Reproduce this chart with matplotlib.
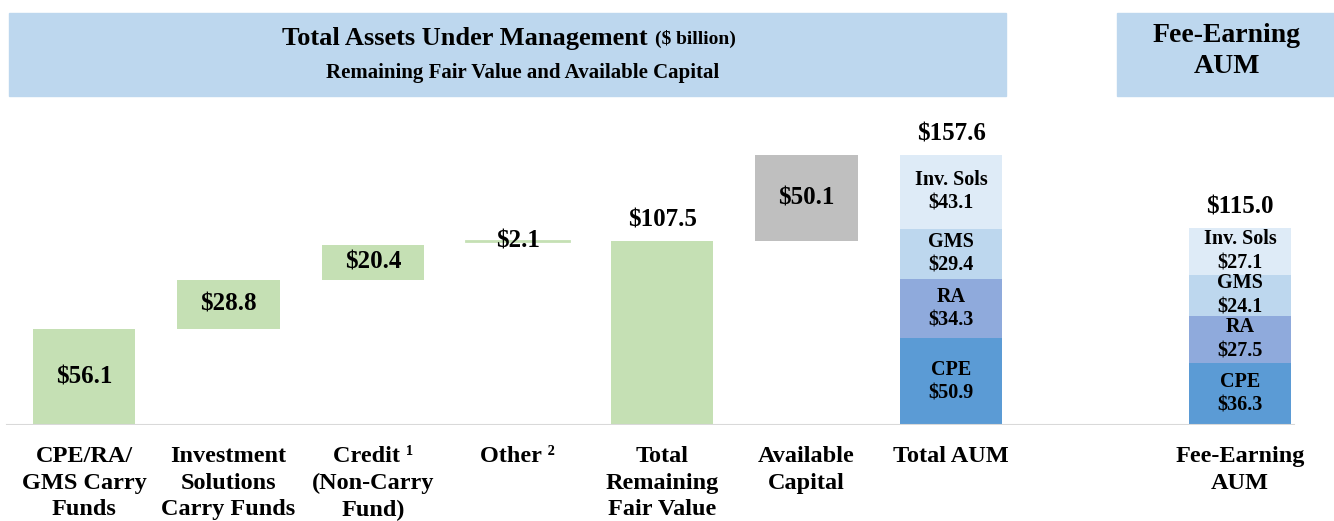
import matplotlib.pyplot as plt
from matplotlib.patches import Rectangle

# data ($ billion)
step_labels = ["$56.1", "$28.8", "$20.4", "$2.1"]
step_values = [56.1, 28.8, 20.4, 2.1]
total_fair_value = 107.5
available_capital = 50.1

segments = ["CPE", "RA", "GMS", "Inv. Sols"]
total_aum = [50.9, 34.3, 29.4, 43.1]
fee_earning_aum = [36.3, 27.5, 24.1, 27.1]
total_aum_sum = 157.6
fee_earning_sum = 115.0

categories = ["CPE/RA/\nGMS Carry\nFunds", "Investment\nSolutions\nCarry Funds",
              "Credit \u00b9\n(Non-Carry\nFund)", "Other \u00b2", "Total\nRemaining\nFair Value",
              "Available\nCapital", "Total AUM", "", "Fee-Earning\nAUM"]

green = "#C5E0B4"
grey = "#BFBFBF"
seg_colors = ["#5B9BD5", "#8FAADC", "#BDD7EE", "#DEEBF7"]
header_color = "#BDD7EE"
serif = ["Liberation Serif", "DejaVu Serif"]

plt.rcParams["font.family"] = serif
plt.rcParams["font.weight"] = "bold"

fig = plt.figure(figsize=(13.34, 5.21), dpi=100)
ax = fig.add_axes([0, 0.1843, 1, 0.6046])
w = 0.71
big = 18

# waterfall steps
bottom = 0
for i, (v, lab) in enumerate(zip(step_values, step_labels)):
    if v < 5:
        ax.plot([i - w / 2, i + w / 2], [bottom + v, bottom + v], color=green, lw=2)
        ax.text(i, bottom + v, lab, ha="center", va="center", fontsize=big)
    else:
        ax.bar(i, v, bottom=bottom, width=w, color=green)
        ax.text(i, bottom + v / 2, lab, ha="center", va="center", fontsize=big)
    bottom += v

ax.bar(4, total_fair_value, width=w, color=green)
ax.annotate(f"${total_fair_value}", (4, total_fair_value), xytext=(0, 7),
            textcoords="offset points", ha="center", va="bottom", fontsize=big)

ax.bar(5, available_capital, bottom=total_fair_value, width=w, color=grey)
ax.text(5, total_fair_value + available_capital / 2, f"${available_capital}",
        ha="center", va="center", fontsize=big)

# stacked bars
for x, vals, tot in [(6, total_aum, total_aum_sum), (8, fee_earning_aum, fee_earning_sum)]:
    b = 0
    for name, v, c in zip(segments, vals, seg_colors):
        ax.bar(x, v, bottom=b, width=w, color=c)
        ax.text(x, b + v / 2, f"{name}\n${v}", ha="center", va="center",
                fontsize=14.5, linespacing=1.25)
        b += v
    ax.annotate(f"${tot:.1f}", (x, tot), xytext=(0, 7), textcoords="offset points",
                ha="center", va="bottom", fontsize=big)

ax.set_xlim(-0.581, 8.65)
ax.set_ylim(0, 184)
ax.axhline(0, xmin=0.005, xmax=0.97, color="#D9D9D9", lw=1.5)
for s in ax.spines.values():
    s.set_visible(False)
ax.set_yticks([])
ax.set_xticks(range(len(categories)))
ax.set_xticklabels(categories, fontsize=17.5, linespacing=1.36, va="top")
ax.tick_params(axis="x", length=0, pad=15)

# header boxes
W, H = 1334, 521
fig.patches.append(Rectangle((9 / W, 1 - 96 / H), 997 / W, 83 / H, transform=fig.transFigure,
                             color=header_color, zorder=0))
fig.patches.append(Rectangle((1117 / W, 1 - 96 / H), 217 / W, 83 / H, transform=fig.transFigure,
                             color=header_color, zorder=0))
fig.text(648 / W, 1 - 39 / H, "Total Assets Under Management", ha="right", va="center", fontsize=19)
fig.text(655 / W, 1 - 39 / H, "($ billion)", ha="left", va="center", fontsize=14)
fig.text(523 / W, 1 - 73 / H, "Remaining Fair Value and Available Capital", ha="center",
         va="center", fontsize=15)
fig.text(1227 / W, 1 - 51 / H, "Fee-Earning\nAUM", ha="center", va="center", fontsize=20,
         linespacing=1.35)

fig.savefig("out.png", dpi=100)
